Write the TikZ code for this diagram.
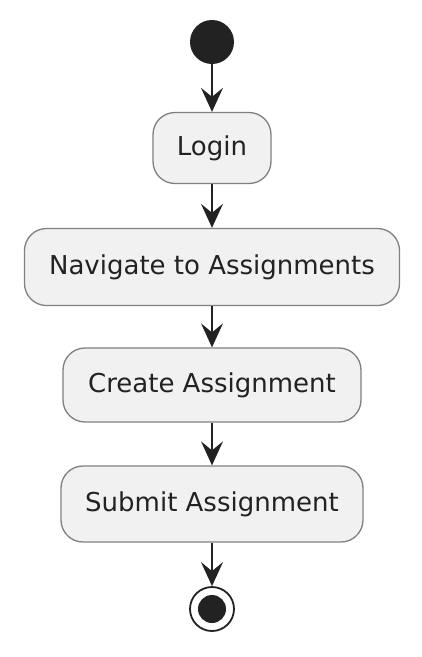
\documentclass[tikz,border=0pt]{standalone}
\usepackage{fontspec}
\setmainfont{DejaVu Sans}
\usetikzlibrary{arrows.meta}
\definecolor{actfill}{HTML}{F1F1F1}
\definecolor{actline}{HTML}{808080}
\definecolor{inkdark}{HTML}{222222}

\begin{document}
\begin{tikzpicture}[x=1pt, y=1pt,
		act/.style={rectangle, rounded corners=22pt, draw=actline, line width=1.3pt, fill=actfill, text=inkdark, font=\fontsize{26}{30}\selectfont, inner sep=0pt},
		flow/.style={-{Stealth[length=24pt, width=22pt, inset=9pt]}, line width=1.5pt, draw=inkdark}]
		\useasboundingbox (0,0) rectangle (422,-657);
		\def\xc{212}
		\node[circle, fill=inkdark, minimum size=44pt, inner sep=0pt] (start) at (\xc, -42) {};
		\node[act, minimum width=118pt, minimum height=71pt] (login) at (\xc, -148) {Login};
		\node[act, minimum width=375pt, minimum height=77pt] (nav) at (\xc, -267) {Navigate to Assignments};
		\node[act, minimum width=298pt, minimum height=74pt] (create) at (\xc, -385) {Create Assignment};
		\node[act, minimum width=302pt, minimum height=76pt] (submit) at (\xc, -504) {Submit Assignment};
		\node[circle, draw=inkdark, line width=1.8pt, fill=white, minimum size=44pt, inner sep=0pt] (stop) at (\xc, -609) {};
		\node[circle, fill=inkdark, minimum size=28pt, inner sep=0pt] (stopdot) at (stop) {};
		\draw[flow] (start) -- (login);
		\draw[flow] (login) -- (nav);
		\draw[flow] (nav) -- (create);
		\draw[flow] (create) -- (submit);
		\draw[flow] (submit) -- (stop);
	\end{tikzpicture}
\end{document}
